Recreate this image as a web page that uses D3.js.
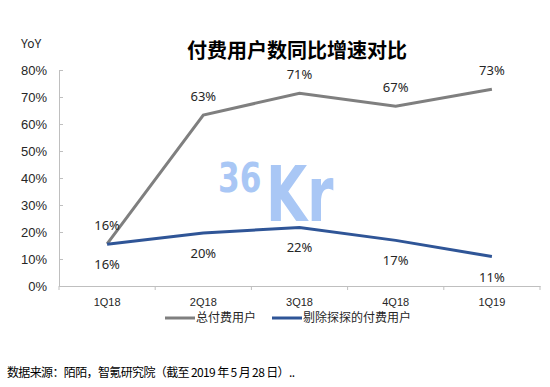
<!DOCTYPE html>
<html>
<head>
<meta charset="utf-8">
<script src="https://cdn.jsdelivr.net/npm/d3@7"></script>
<style>
  body { margin: 0; background: #fff; }
  svg { font-family: "Noto Sans", "Noto Sans CJK SC", sans-serif; }
</style>
</head>
<body>
<div id="chart-container"></div>
<script>
const quarters = ["1Q18", "2Q18", "3Q18", "4Q18", "1Q19"];
const totalPaid = [15.6, 63.3, 71.4, 66.6, 72.9];
const exTantan = [15.5, 19.6, 21.7, 16.9, 10.9];
const totalLabels = ["16%", "63%", "71%", "67%", "73%"];
const exLabels = ["16%", "20%", "22%", "17%", "11%"];
const yTicks = [0, 10, 20, 30, 40, 50, 60, 70, 80];
const seriesNames = ["总付费用户", "剔除探探的付费用户"];

const width = 550, height = 387;
const marginTop = 70, marginRight = 10, marginBottom = 101, marginLeft = 59;
const grey = "#7f7f7f", blue = "#2f5597", axisColor = "#bfbfbf";

const svg = d3.select("#chart-container")
  .append("svg")
  .attr("width", width)
  .attr("height", height);

const x = d3.scaleBand()
  .domain(quarters)
  .range([marginLeft, width - marginRight]);

const y = d3.scaleLinear()
  .domain([0, 80])
  .range([height - marginBottom, marginTop]);

// watermark 36Kr, squeezed horizontally
const wm = svg.append("g")
  .attr("fill", "#a9c7f5")
  .attr("font-family", "DejaVu Sans")
  .attr("font-weight", "bold");
wm.append("g").attr("transform", "translate(218,192) scale(0.78,1)")
  .append("text").attr("font-size", 40).text("36");
wm.append("g").attr("transform", "translate(266,221) scale(0.7,1)")
  .append("text").attr("font-size", 76).text("Kr");

// title
svg.append("text")
  .attr("x", 297).attr("y", 58)
  .attr("text-anchor", "middle")
  .attr("font-size", 20).attr("font-weight", "bold")
  .attr("font-family", "Noto Sans CJK SC")
  .attr("fill", "#000")
  .text("付费用户数同比增速对比");

svg.append("text")
  .attr("x", 21).attr("y", 48)
  .attr("font-size", 12).attr("fill", "#262626")
  .text("YoY");

// y axis
const yAxis = svg.append("g")
  .attr("transform", `translate(${marginLeft},0)`)
  .call(d3.axisLeft(y).tickValues(yTicks).tickFormat(d => d + "%").tickSize(-4).tickPadding(12));
yAxis.select(".domain").attr("stroke", axisColor);
yAxis.selectAll(".tick line").attr("stroke", axisColor);
yAxis.selectAll("text").attr("font-size", 13).attr("fill", "#262626");

// x axis
const xAxis = svg.append("g")
  .attr("transform", `translate(0,${height - marginBottom})`)
  .call(d3.axisBottom(x).tickSize(0).tickPadding(12));
xAxis.select(".domain").attr("stroke", axisColor);
xAxis.selectAll("text").attr("font-size", 11).attr("fill", "#262626");
xAxis.selectAll(".sep")
  .data(quarters.concat(["end"]))
  .enter().append("line")
  .attr("x1", (d, i) => marginLeft + i * x.step())
  .attr("x2", (d, i) => marginLeft + i * x.step())
  .attr("y1", 0).attr("y2", 4)
  .attr("stroke", axisColor);

const cx = d => x(d) + x.bandwidth() / 2;
const line = d3.line().x(d => cx(d.q)).y(d => y(d.v));

const series = [
  { values: totalPaid, labels: totalLabels, color: grey, dy: -14 },
  { values: exTantan, labels: exLabels, color: blue, dy: 25 }
];

series.forEach(s => {
  const pts = quarters.map((q, i) => ({ q, v: s.values[i], l: s.labels[i] }));
  svg.append("path")
    .datum(pts)
    .attr("fill", "none")
    .attr("stroke", s.color)
    .attr("stroke-width", 3)
    .attr("d", line);
  svg.selectAll(null)
    .data(pts)
    .enter().append("text")
    .attr("x", d => cx(d.q))
    .attr("y", d => y(d.v) + s.dy)
    .attr("text-anchor", "middle")
    .attr("font-size", 13)
    .attr("fill", "#262626")
    .text(d => d.l);
});

// legend
const legend = svg.append("g").attr("font-family", "Noto Sans CJK SC");
const legendX = [165, 272];
[grey, blue].forEach((c, i) => {
  legend.append("line")
    .attr("x1", legendX[i]).attr("x2", legendX[i] + 30)
    .attr("y1", 318).attr("y2", 318)
    .attr("stroke", c).attr("stroke-width", 3);
  legend.append("text")
    .attr("x", legendX[i] + 31).attr("y", 322)
    .attr("font-size", 12).attr("fill", "#262626")
    .text(seriesNames[i]);
});

// source
svg.append("text")
  .attr("x", 7).attr("y", 377)
  .attr("font-size", 12)
  .attr("font-family", "Noto Sans CJK SC")
  .attr("textLength", 288)
  .attr("fill", "#000")
  .text("数据来源：陌陌，智氪研究院（截至 2019 年 5 月 28 日）..");
</script>
</body>
</html>
